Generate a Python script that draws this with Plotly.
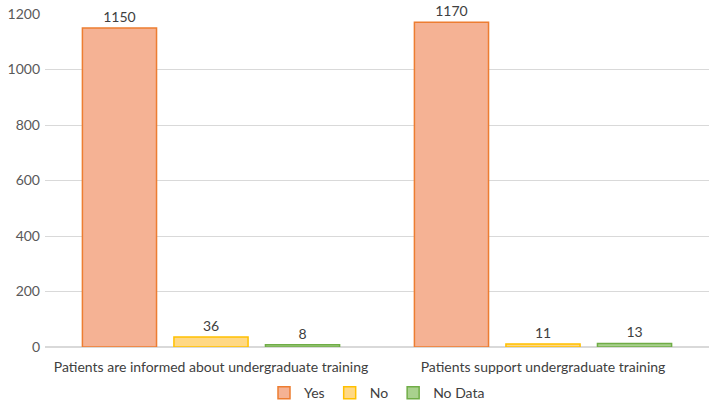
import plotly.graph_objects as go

categories = ["Patients are informed about undergraduate training",
              "Patients support undergraduate training"]
yes_vals = [1150, 1170]
no_vals = [36, 11]
nodata_vals = [8, 13]

series = [
    ("Yes", yes_vals, "#F5B294", "#ED7D31"),
    ("No", no_vals, "#FFD885", "#FFC000"),
    ("No Data", nodata_vals, "#A9D18E", "#70AD47"),
]

fig = go.Figure()
for name, vals, fill, line in series:
    fig.add_trace(go.Bar(
        name=name, x=categories, y=vals,
        marker=dict(color=fill, line=dict(color=line, width=1.5)),
        text=vals, textposition="outside", cliponaxis=False,
        textfont=dict(size=14, color="#404040"),
    ))

fig.update_layout(
    width=709, height=409,
    margin=dict(l=45, r=0, t=14, b=62),
    plot_bgcolor="white", paper_bgcolor="white",
    font=dict(family="Lato, Carlito, sans-serif", size=14, color="#404040"),
    barmode="group", bargap=0.173, bargroupgap=0.19,
    showlegend=True,
    legend=dict(orientation="h", x=0.5, xanchor="center",
                yref="container", y=0.039, yanchor="middle",
                font=dict(size=14, color="#404040"), itemwidth=30,
                traceorder="normal"),
    yaxis=dict(range=[0, 1200], dtick=200, showgrid=True, gridcolor="#D9D9D9",
               zeroline=True, zerolinecolor="#D9D9D9", ticks="", ticklen=0,
               automargin=False,
               tickfont=dict(size=14, color="#595959"), ticklabelstandoff=4),
    xaxis=dict(showline=False, ticks="", ticklabelstandoff=10, automargin=False,
               tickfont=dict(size=14, color="#404040")),
)

# drop the browser's default page margin so the figure fills the window
fig.write_html("out.html", config={"displayModeBar": False},
               post_script="document.body.style.margin='0';")
